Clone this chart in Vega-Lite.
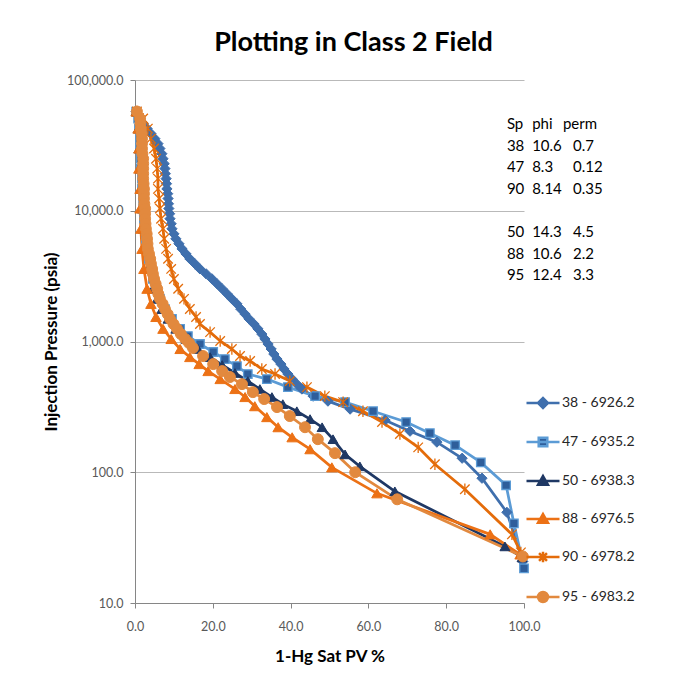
{
 "$schema": "https://vega.github.io/schema/vega-lite/v6.json",
 "width": 389, "height": 523,
 "autosize": {"type": "none"},
 "padding": {"left": 135, "top": 80, "right": 163, "bottom": 74},
 "background": "white",
 "config": {"font": "Lato", "view": {"stroke": null}},
 "title": {"text": "Plotting in Class 2 Field", "fontSize": 27, "fontWeight": "bold", "color": "#000000", "anchor": "middle", "dx": 24, "offset": 17, "font": "Lato"},
 "datasets": {
  "notes": [
   {"col": "sp1", "t": ["Sp","38","47","90"]},
   {"col": "phi1", "t": ["phi","10.6","8.3","8.14"]},
   {"col": "permh", "t": ["perm"]},
   {"col": "perm1", "t": ["\u00a0","0.7","0.12","0.35"]},
   {"col": "sp2", "t": ["50","88","95"]},
   {"col": "phi2", "t": ["14.3","10.6","12.4"]},
   {"col": "perm2", "t": ["4.5","2.2","3.3"]}
  ],
  "curves": [
   {"series":"38 - 6926.2","sat":0.3,"p":57400},{"series":"38 - 6926.2","sat":1.3,"p":50700},{"series":"38 - 6926.2","sat":2.1,"p":46400},{"series":"38 - 6926.2","sat":3.1,"p":42500},{"series":"38 - 6926.2","sat":4.1,"p":38900},{"series":"38 - 6926.2","sat":5.1,"p":35600},{"series":"38 - 6926.2","sat":5.9,"p":32600},{"series":"38 - 6926.2","sat":6.4,"p":29900},{"series":"38 - 6926.2","sat":6.9,"p":27300},{"series":"38 - 6926.2","sat":7.2,"p":25000},{"series":"38 - 6926.2","sat":7.5,"p":22900},{"series":"38 - 6926.2","sat":7.7,"p":21000},{"series":"38 - 6926.2","sat":7.8,"p":19200},{"series":"38 - 6926.2","sat":8.0,"p":17600},{"series":"38 - 6926.2","sat":8.1,"p":16100},{"series":"38 - 6926.2","sat":8.2,"p":14700},{"series":"38 - 6926.2","sat":8.4,"p":13500},{"series":"38 - 6926.2","sat":8.5,"p":12400},{"series":"38 - 6926.2","sat":8.6,"p":11300},{"series":"38 - 6926.2","sat":8.7,"p":10400},{"series":"38 - 6926.2","sat":8.9,"p":9490},{"series":"38 - 6926.2","sat":9.0,"p":8690},{"series":"38 - 6926.2","sat":9.3,"p":7950},{"series":"38 - 6926.2","sat":9.5,"p":7280},{"series":"38 - 6926.2","sat":10.0,"p":6660},{"series":"38 - 6926.2","sat":10.5,"p":6100},{"series":"38 - 6926.2","sat":11.3,"p":5590},{"series":"38 - 6926.2","sat":12.1,"p":5110},{"series":"38 - 6926.2","sat":13.1,"p":4680},{"series":"38 - 6926.2","sat":14.1,"p":4290},{"series":"38 - 6926.2","sat":15.4,"p":3930},{"series":"38 - 6926.2","sat":16.7,"p":3590},{"series":"38 - 6926.2","sat":18.3,"p":3290},{"series":"38 - 6926.2","sat":19.8,"p":3010},{"series":"38 - 6926.2","sat":21.1,"p":2760},{"series":"38 - 6926.2","sat":22.4,"p":2530},{"series":"38 - 6926.2","sat":23.7,"p":2310},{"series":"38 - 6926.2","sat":24.9,"p":2120},{"series":"38 - 6926.2","sat":26.2,"p":1940},{"series":"38 - 6926.2","sat":27.2,"p":1770},{"series":"38 - 6926.2","sat":28.3,"p":1620},{"series":"38 - 6926.2","sat":29.3,"p":1490},{"series":"38 - 6926.2","sat":30.6,"p":1360},{"series":"38 - 6926.2","sat":31.6,"p":1250},{"series":"38 - 6926.2","sat":32.6,"p":1140},{"series":"38 - 6926.2","sat":33.4,"p":1045},{"series":"38 - 6926.2","sat":34.2,"p":957},{"series":"38 - 6926.2","sat":35.0,"p":876},{"series":"38 - 6926.2","sat":35.7,"p":802},{"series":"38 - 6926.2","sat":36.5,"p":734},{"series":"38 - 6926.2","sat":37.5,"p":672},{"series":"38 - 6926.2","sat":38.3,"p":616},{"series":"38 - 6926.2","sat":39.3,"p":564},{"series":"38 - 6926.2","sat":40.4,"p":516},{"series":"38 - 6926.2","sat":41.6,"p":472},{"series":"38 - 6926.2","sat":42.9,"p":433},{"series":"38 - 6926.2","sat":45.8,"p":382},{"series":"38 - 6926.2","sat":49.6,"p":350},{"series":"38 - 6926.2","sat":55.3,"p":304},{"series":"38 - 6926.2","sat":64.3,"p":250},{"series":"38 - 6926.2","sat":70.7,"p":206},{"series":"38 - 6926.2","sat":77.6,"p":170},{"series":"38 - 6926.2","sat":84.1,"p":128},{"series":"38 - 6926.2","sat":89.2,"p":90},{"series":"38 - 6926.2","sat":95.6,"p":49.4},{"series":"38 - 6926.2","sat":99.7,"p":20.8},
   {"series":"47 - 6935.2","sat":0.3,"p":57400},{"series":"47 - 6935.2","sat":0.8,"p":50700},{"series":"47 - 6935.2","sat":1.0,"p":42500},{"series":"47 - 6935.2","sat":1.3,"p":35600},{"series":"47 - 6935.2","sat":1.3,"p":29900},{"series":"47 - 6935.2","sat":1.5,"p":25000},{"series":"47 - 6935.2","sat":1.5,"p":21000},{"series":"47 - 6935.2","sat":1.8,"p":17600},{"series":"47 - 6935.2","sat":1.8,"p":14700},{"series":"47 - 6935.2","sat":2.1,"p":12400},{"series":"47 - 6935.2","sat":2.1,"p":10400},{"series":"47 - 6935.2","sat":2.3,"p":8690},{"series":"47 - 6935.2","sat":2.6,"p":7280},{"series":"47 - 6935.2","sat":2.8,"p":6100},{"series":"47 - 6935.2","sat":3.1,"p":5110},{"series":"47 - 6935.2","sat":3.6,"p":4290},{"series":"47 - 6935.2","sat":4.1,"p":3590},{"series":"47 - 6935.2","sat":4.6,"p":3010},{"series":"47 - 6935.2","sat":5.4,"p":2530},{"series":"47 - 6935.2","sat":6.4,"p":2120},{"series":"47 - 6935.2","sat":7.7,"p":1770},{"series":"47 - 6935.2","sat":9.5,"p":1490},{"series":"47 - 6935.2","sat":11.6,"p":1250},{"series":"47 - 6935.2","sat":13.6,"p":1100},{"series":"47 - 6935.2","sat":16.7,"p":957},{"series":"47 - 6935.2","sat":20.1,"p":831},{"series":"47 - 6935.2","sat":23.1,"p":734},{"series":"47 - 6935.2","sat":26.2,"p":649},{"series":"47 - 6935.2","sat":29.0,"p":564},{"series":"47 - 6935.2","sat":33.9,"p":516},{"series":"47 - 6935.2","sat":39.3,"p":448},{"series":"47 - 6935.2","sat":46.3,"p":382},{"series":"47 - 6935.2","sat":54.0,"p":344},{"series":"47 - 6935.2","sat":61.2,"p":293},{"series":"47 - 6935.2","sat":69.7,"p":242},{"series":"47 - 6935.2","sat":75.8,"p":199},{"series":"47 - 6935.2","sat":82.3,"p":161},{"series":"47 - 6935.2","sat":88.9,"p":119},{"series":"47 - 6935.2","sat":95.4,"p":79.5},{"series":"47 - 6935.2","sat":97.4,"p":40.7},{"series":"47 - 6935.2","sat":100,"p":18.4},
   {"series":"50 - 6938.3","sat":0.3,"p":57400},{"series":"50 - 6938.3","sat":0.8,"p":42500},{"series":"50 - 6938.3","sat":1.0,"p":29900},{"series":"50 - 6938.3","sat":1.3,"p":21000},{"series":"50 - 6938.3","sat":1.5,"p":14700},{"series":"50 - 6938.3","sat":1.8,"p":10400},{"series":"50 - 6938.3","sat":2.1,"p":7280},{"series":"50 - 6938.3","sat":2.6,"p":5110},{"series":"50 - 6938.3","sat":3.3,"p":3590},{"series":"50 - 6938.3","sat":4.6,"p":2530},{"series":"50 - 6938.3","sat":5.7,"p":2120},{"series":"50 - 6938.3","sat":6.9,"p":1770},{"series":"50 - 6938.3","sat":8.5,"p":1490},{"series":"50 - 6938.3","sat":10.5,"p":1250},{"series":"50 - 6938.3","sat":13.1,"p":1045},{"series":"50 - 6938.3","sat":16.2,"p":876},{"series":"50 - 6938.3","sat":19.3,"p":760},{"series":"50 - 6938.3","sat":22.4,"p":661},{"series":"50 - 6938.3","sat":25.7,"p":574},{"series":"50 - 6938.3","sat":29.0,"p":498},{"series":"50 - 6938.3","sat":32.1,"p":433},{"series":"50 - 6938.3","sat":35.2,"p":376},{"series":"50 - 6938.3","sat":38.0,"p":332},{"series":"50 - 6938.3","sat":41.6,"p":293},{"series":"50 - 6938.3","sat":45.0,"p":255},{"series":"50 - 6938.3","sat":48.1,"p":221},{"series":"50 - 6938.3","sat":50.9,"p":179},{"series":"50 - 6938.3","sat":54.0,"p":137},{"series":"50 - 6938.3","sat":57.8,"p":111},{"series":"50 - 6938.3","sat":66.8,"p":71.5},{"series":"50 - 6938.3","sat":95.1,"p":27.1},{"series":"50 - 6938.3","sat":99.5,"p":22.3},
   {"series":"88 - 6976.5","sat":0.3,"p":57400},{"series":"88 - 6976.5","sat":0.8,"p":42500},{"series":"88 - 6976.5","sat":1.0,"p":29900},{"series":"88 - 6976.5","sat":1.0,"p":21000},{"series":"88 - 6976.5","sat":1.3,"p":14700},{"series":"88 - 6976.5","sat":1.3,"p":10400},{"series":"88 - 6976.5","sat":1.5,"p":7280},{"series":"88 - 6976.5","sat":1.8,"p":5110},{"series":"88 - 6976.5","sat":2.3,"p":3590},{"series":"88 - 6976.5","sat":3.1,"p":2530},{"series":"88 - 6976.5","sat":4.1,"p":1940},{"series":"88 - 6976.5","sat":5.4,"p":1540},{"series":"88 - 6976.5","sat":7.2,"p":1250},{"series":"88 - 6976.5","sat":9.3,"p":1045},{"series":"88 - 6976.5","sat":11.6,"p":876},{"series":"88 - 6976.5","sat":14.1,"p":760},{"series":"88 - 6976.5","sat":16.5,"p":672},{"series":"88 - 6976.5","sat":18.8,"p":594},{"series":"88 - 6976.5","sat":21.9,"p":516},{"series":"88 - 6976.5","sat":25.7,"p":433},{"series":"88 - 6976.5","sat":28.3,"p":376},{"series":"88 - 6976.5","sat":30.8,"p":320},{"series":"88 - 6976.5","sat":33.9,"p":264},{"series":"88 - 6976.5","sat":36.8,"p":221},{"series":"88 - 6976.5","sat":40.4,"p":185},{"series":"88 - 6976.5","sat":45.0,"p":150},{"series":"88 - 6976.5","sat":50.6,"p":109},{"series":"88 - 6976.5","sat":62.2,"p":69},{"series":"88 - 6976.5","sat":91.3,"p":33.5},{"series":"88 - 6976.5","sat":99.0,"p":23.5},
   {"series":"90 - 6978.2","sat":0.5,"p":57400},{"series":"90 - 6978.2","sat":2.1,"p":50700},{"series":"90 - 6978.2","sat":3.3,"p":42500},{"series":"90 - 6978.2","sat":4.1,"p":35600},{"series":"90 - 6978.2","sat":4.9,"p":29900},{"series":"90 - 6978.2","sat":5.4,"p":25000},{"series":"90 - 6978.2","sat":5.7,"p":21000},{"series":"90 - 6978.2","sat":5.9,"p":17600},{"series":"90 - 6978.2","sat":5.9,"p":14700},{"series":"90 - 6978.2","sat":6.2,"p":12400},{"series":"90 - 6978.2","sat":6.4,"p":10400},{"series":"90 - 6978.2","sat":6.7,"p":8690},{"series":"90 - 6978.2","sat":7.2,"p":7280},{"series":"90 - 6978.2","sat":7.5,"p":6100},{"series":"90 - 6978.2","sat":8.0,"p":5110},{"series":"90 - 6978.2","sat":8.5,"p":4290},{"series":"90 - 6978.2","sat":9.3,"p":3590},{"series":"90 - 6978.2","sat":10.0,"p":3010},{"series":"90 - 6978.2","sat":11.1,"p":2530},{"series":"90 - 6978.2","sat":12.6,"p":2120},{"series":"90 - 6978.2","sat":14.1,"p":1770},{"series":"90 - 6978.2","sat":15.7,"p":1540},{"series":"90 - 6978.2","sat":16.7,"p":1360},{"series":"90 - 6978.2","sat":19.3,"p":1180},{"series":"90 - 6978.2","sat":21.9,"p":1010},{"series":"90 - 6978.2","sat":24.9,"p":876},{"series":"90 - 6978.2","sat":27.0,"p":774},{"series":"90 - 6978.2","sat":29.6,"p":709},{"series":"90 - 6978.2","sat":32.6,"p":616},{"series":"90 - 6978.2","sat":36.0,"p":564},{"series":"90 - 6978.2","sat":39.8,"p":498},{"series":"90 - 6978.2","sat":44.2,"p":448},{"series":"90 - 6978.2","sat":48.8,"p":382},{"series":"90 - 6978.2","sat":53.5,"p":344},{"series":"90 - 6978.2","sat":58.6,"p":293},{"series":"90 - 6978.2","sat":63.5,"p":242},{"series":"90 - 6978.2","sat":68.1,"p":196},{"series":"90 - 6978.2","sat":72.8,"p":155},{"series":"90 - 6978.2","sat":77.1,"p":115},{"series":"90 - 6978.2","sat":84.8,"p":74.1},{"series":"90 - 6978.2","sat":96.9,"p":33.5},{"series":"90 - 6978.2","sat":99.2,"p":24.4},
   {"series":"95 - 6983.2","sat":0.5,"p":57400},{"series":"95 - 6983.2","sat":1.3,"p":50700},{"series":"95 - 6983.2","sat":1.4,"p":46400},{"series":"95 - 6983.2","sat":1.5,"p":42500},{"series":"95 - 6983.2","sat":1.7,"p":38900},{"series":"95 - 6983.2","sat":1.8,"p":35600},{"series":"95 - 6983.2","sat":1.8,"p":32600},{"series":"95 - 6983.2","sat":1.8,"p":29900},{"series":"95 - 6983.2","sat":1.9,"p":27300},{"series":"95 - 6983.2","sat":2.1,"p":25000},{"series":"95 - 6983.2","sat":2.1,"p":22900},{"series":"95 - 6983.2","sat":2.1,"p":21000},{"series":"95 - 6983.2","sat":2.1,"p":19200},{"series":"95 - 6983.2","sat":2.1,"p":17600},{"series":"95 - 6983.2","sat":2.2,"p":16100},{"series":"95 - 6983.2","sat":2.3,"p":14700},{"series":"95 - 6983.2","sat":2.3,"p":13500},{"series":"95 - 6983.2","sat":2.3,"p":12400},{"series":"95 - 6983.2","sat":2.4,"p":11300},{"series":"95 - 6983.2","sat":2.6,"p":10400},{"series":"95 - 6983.2","sat":2.6,"p":9490},{"series":"95 - 6983.2","sat":2.6,"p":8690},{"series":"95 - 6983.2","sat":2.7,"p":7950},{"series":"95 - 6983.2","sat":2.8,"p":7280},{"series":"95 - 6983.2","sat":3.0,"p":6660},{"series":"95 - 6983.2","sat":3.1,"p":6100},{"series":"95 - 6983.2","sat":3.2,"p":5590},{"series":"95 - 6983.2","sat":3.3,"p":5110},{"series":"95 - 6983.2","sat":3.6,"p":4680},{"series":"95 - 6983.2","sat":3.9,"p":4290},{"series":"95 - 6983.2","sat":4.1,"p":3930},{"series":"95 - 6983.2","sat":4.4,"p":3590},{"series":"95 - 6983.2","sat":4.6,"p":3290},{"series":"95 - 6983.2","sat":4.9,"p":3010},{"series":"95 - 6983.2","sat":5.3,"p":2760},{"series":"95 - 6983.2","sat":5.7,"p":2530},{"series":"95 - 6983.2","sat":6.0,"p":2310},{"series":"95 - 6983.2","sat":6.4,"p":2120},{"series":"95 - 6983.2","sat":7.1,"p":1940},{"series":"95 - 6983.2","sat":7.7,"p":1770},{"series":"95 - 6983.2","sat":8.4,"p":1620},{"series":"95 - 6983.2","sat":9.0,"p":1490},{"series":"95 - 6983.2","sat":9.9,"p":1360},{"series":"95 - 6983.2","sat":10.8,"p":1250},{"series":"95 - 6983.2","sat":11.8,"p":1140},{"series":"95 - 6983.2","sat":12.9,"p":1045},{"series":"95 - 6983.2","sat":13.9,"p":974},{"series":"95 - 6983.2","sat":14.9,"p":892},{"series":"95 - 6983.2","sat":17.5,"p":774},{"series":"95 - 6983.2","sat":20.1,"p":672},{"series":"95 - 6983.2","sat":22.4,"p":594},{"series":"95 - 6983.2","sat":24.4,"p":535},{"series":"95 - 6983.2","sat":27.5,"p":472},{"series":"95 - 6983.2","sat":30.3,"p":410},{"series":"95 - 6983.2","sat":33.2,"p":363},{"series":"95 - 6983.2","sat":36.5,"p":315},{"series":"95 - 6983.2","sat":39.8,"p":269},{"series":"95 - 6983.2","sat":43.7,"p":221},{"series":"95 - 6983.2","sat":47.0,"p":179},{"series":"95 - 6983.2","sat":51.4,"p":140},{"series":"95 - 6983.2","sat":56.6,"p":100},{"series":"95 - 6983.2","sat":67.4,"p":62.1},{"series":"95 - 6983.2","sat":99.7,"p":22.7}
  ]
 },
 "layer": [
  {"data": {"name": "curves"},
   "encoding": {
    "x": {"field": "sat", "type": "quantitative", "scale": {"domain": [0, 100], "nice": false, "zero": false},
          "axis": {"title": "1-Hg Sat PV %", "values": [0,20,40,60,80,100], "format": ".1f", "grid": false, "domainColor": "#868686", "tickColor": "#868686", "tickSize": 5, "labelFontSize": 12.5, "labelColor": "#595959", "labelPadding": 12, "labelFlush": false, "titleFontSize": 17, "titleFontWeight": "bold", "titleColor": "#000000", "titlePadding": 16}},
    "y": {"field": "p", "type": "quantitative", "scale": {"type": "log", "domain": [10, 100000], "nice": false},
          "axis": {"title": "Injection Pressure (psia)", "values": [10,100,1000,10000,100000], "format": ",.1f", "grid": true, "gridColor": "#B9B9B9", "domainColor": "#868686", "tickColor": "#868686", "tickSize": 5, "labelFontSize": 12.5, "labelColor": "#595959", "labelPadding": 7, "labelFlush": false, "titleFontSize": 17, "titleFontWeight": "bold", "titleColor": "#000000", "titlePadding": 6}}
   },
   "layer": [
    {"mark": {"type": "line", "strokeWidth": 2.75},
     "encoding": {
      "color": {"field": "series", "type": "nominal",
        "scale": {"domain": ["38 - 6926.2","47 - 6935.2","50 - 6938.3","88 - 6976.5","90 - 6978.2","95 - 6983.2"], "range": ["#3F6FAD","#5B9BD5","#1F3864","#EC7115","#E46C0A","#E2893E"]},
        "legend": {"orient": "none", "legendX": 390, "legendY": 305, "title": null, "symbolSize": 1089, "symbolStrokeWidth": 2.5, "labelFontSize": 14, "labelColor": "#262626", "labelOffset": 1, "rowPadding": 11, "padding": 0,
          "encode": {"symbols": {"update": {
            "shape": {"signal": "({'38 - 6926.2':'M-1,0H1M-0.3,0L0,-0.3L0.3,0L0,0.3Z','47 - 6935.2':'M-1,0H1M-0.26,-0.26H0.26V0.26H-0.26Z','50 - 6938.3':'M-1,0H1M0,-0.3L0.3,0.22L-0.3,0.22Z','88 - 6976.5':'M-1,0H1M0,-0.3L0.3,0.22L-0.3,0.22Z','90 - 6978.2':'M-1,0H1M-0.24,-0.24L0.24,0.24M-0.24,0.24L0.24,-0.24M0,-0.32V0.32','95 - 6983.2':'M-1,0H1M-0.3,0A0.3,0.3,0,1,0,0.3,0A0.3,0.3,0,1,0,-0.3,0Z'})[datum.value]"},
            "fill": {"signal": "datum.value === '47 - 6935.2' ? '#2E5E9B' : scale('color', datum.value)"},
            "stroke": {"signal": "scale('color', datum.value)"},
            "strokeWidth": {"value": 2.5},
            "opacity": {"value": 1}
          }}}}},
      "order": {"value": null}
     }},
    {"transform": [{"filter": "datum.series === '38 - 6926.2'"}],
     "mark": {"type": "point", "shape": "diamond", "size": 105, "filled": true, "opacity": 1, "fill": "#3F6FAD", "stroke": "#3F6FAD", "strokeWidth": 1}},
    {"transform": [{"filter": "datum.series === '47 - 6935.2'"}],
     "mark": {"type": "point", "shape": "square", "size": 72, "filled": true, "opacity": 1, "fill": "#2E5E9B", "stroke": "#5B9BD5", "strokeWidth": 1.3}},
    {"transform": [{"filter": "datum.series === '50 - 6938.3'"}],
     "mark": {"type": "point", "shape": "triangle-up", "size": 100, "filled": true, "opacity": 1, "fill": "#1F3864", "stroke": "#1F3864", "strokeWidth": 1}},
    {"transform": [{"filter": "datum.series === '88 - 6976.5'"}],
     "mark": {"type": "point", "shape": "triangle-up", "size": 110, "filled": true, "opacity": 1, "fill": "#EC7115", "stroke": "#EC7115", "strokeWidth": 1}},
    {"transform": [{"filter": "datum.series === '90 - 6978.2'"}],
     "mark": {"type": "point", "shape": "M-1,-1L1,1M-1,1L1,-1M0,-1.2L0,1.2", "size": 90, "filled": false, "opacity": 1, "stroke": "#E46C0A", "strokeWidth": 1.3}},
    {"transform": [{"filter": "datum.series === '95 - 6983.2'"}],
     "mark": {"type": "point", "shape": "circle", "size": 120, "filled": true, "opacity": 1, "fill": "#E2893E", "stroke": "#E2893E", "strokeWidth": 1}}
   ]
  },
  {"data": {"name": "notes"},
   "transform": [{"filter": "datum.col === 'sp1'"}],
   "mark": {"type": "text", "align": "left", "baseline": "top", "fontSize": 15, "lineHeight": 21.5, "color": "#000000"},
   "encoding": {"x": {"datum": 95.6}, "y": {"datum": 51950}, "text": {"field": "t"}}},
  {"data": {"name": "notes"},
   "transform": [{"filter": "datum.col === 'phi1'"}],
   "mark": {"type": "text", "align": "left", "baseline": "top", "fontSize": 15, "lineHeight": 21.5, "color": "#000000"},
   "encoding": {"x": {"datum": 102.1}, "y": {"datum": 51950}, "text": {"field": "t"}}},
  {"data": {"name": "notes"},
   "transform": [{"filter": "datum.col === 'permh'"}],
   "mark": {"type": "text", "align": "left", "baseline": "top", "fontSize": 15, "lineHeight": 21.5, "color": "#000000"},
   "encoding": {"x": {"datum": 110.0}, "y": {"datum": 51950}, "text": {"field": "t"}}},
  {"data": {"name": "notes"},
   "transform": [{"filter": "datum.col === 'perm1'"}],
   "mark": {"type": "text", "align": "left", "baseline": "top", "fontSize": 15, "lineHeight": 21.5, "color": "#000000"},
   "encoding": {"x": {"datum": 112.6}, "y": {"datum": 51950}, "text": {"field": "t"}}},
  {"data": {"name": "notes"},
   "transform": [{"filter": "datum.col === 'sp2'"}],
   "mark": {"type": "text", "align": "left", "baseline": "top", "fontSize": 15, "lineHeight": 21.5, "color": "#000000"},
   "encoding": {"x": {"datum": 95.6}, "y": {"datum": 7730}, "text": {"field": "t"}}},
  {"data": {"name": "notes"},
   "transform": [{"filter": "datum.col === 'phi2'"}],
   "mark": {"type": "text", "align": "left", "baseline": "top", "fontSize": 15, "lineHeight": 21.5, "color": "#000000"},
   "encoding": {"x": {"datum": 102.1}, "y": {"datum": 7730}, "text": {"field": "t"}}},
  {"data": {"name": "notes"},
   "transform": [{"filter": "datum.col === 'perm2'"}],
   "mark": {"type": "text", "align": "left", "baseline": "top", "fontSize": 15, "lineHeight": 21.5, "color": "#000000"},
   "encoding": {"x": {"datum": 112.6}, "y": {"datum": 7730}, "text": {"field": "t"}}}
 ]
}
